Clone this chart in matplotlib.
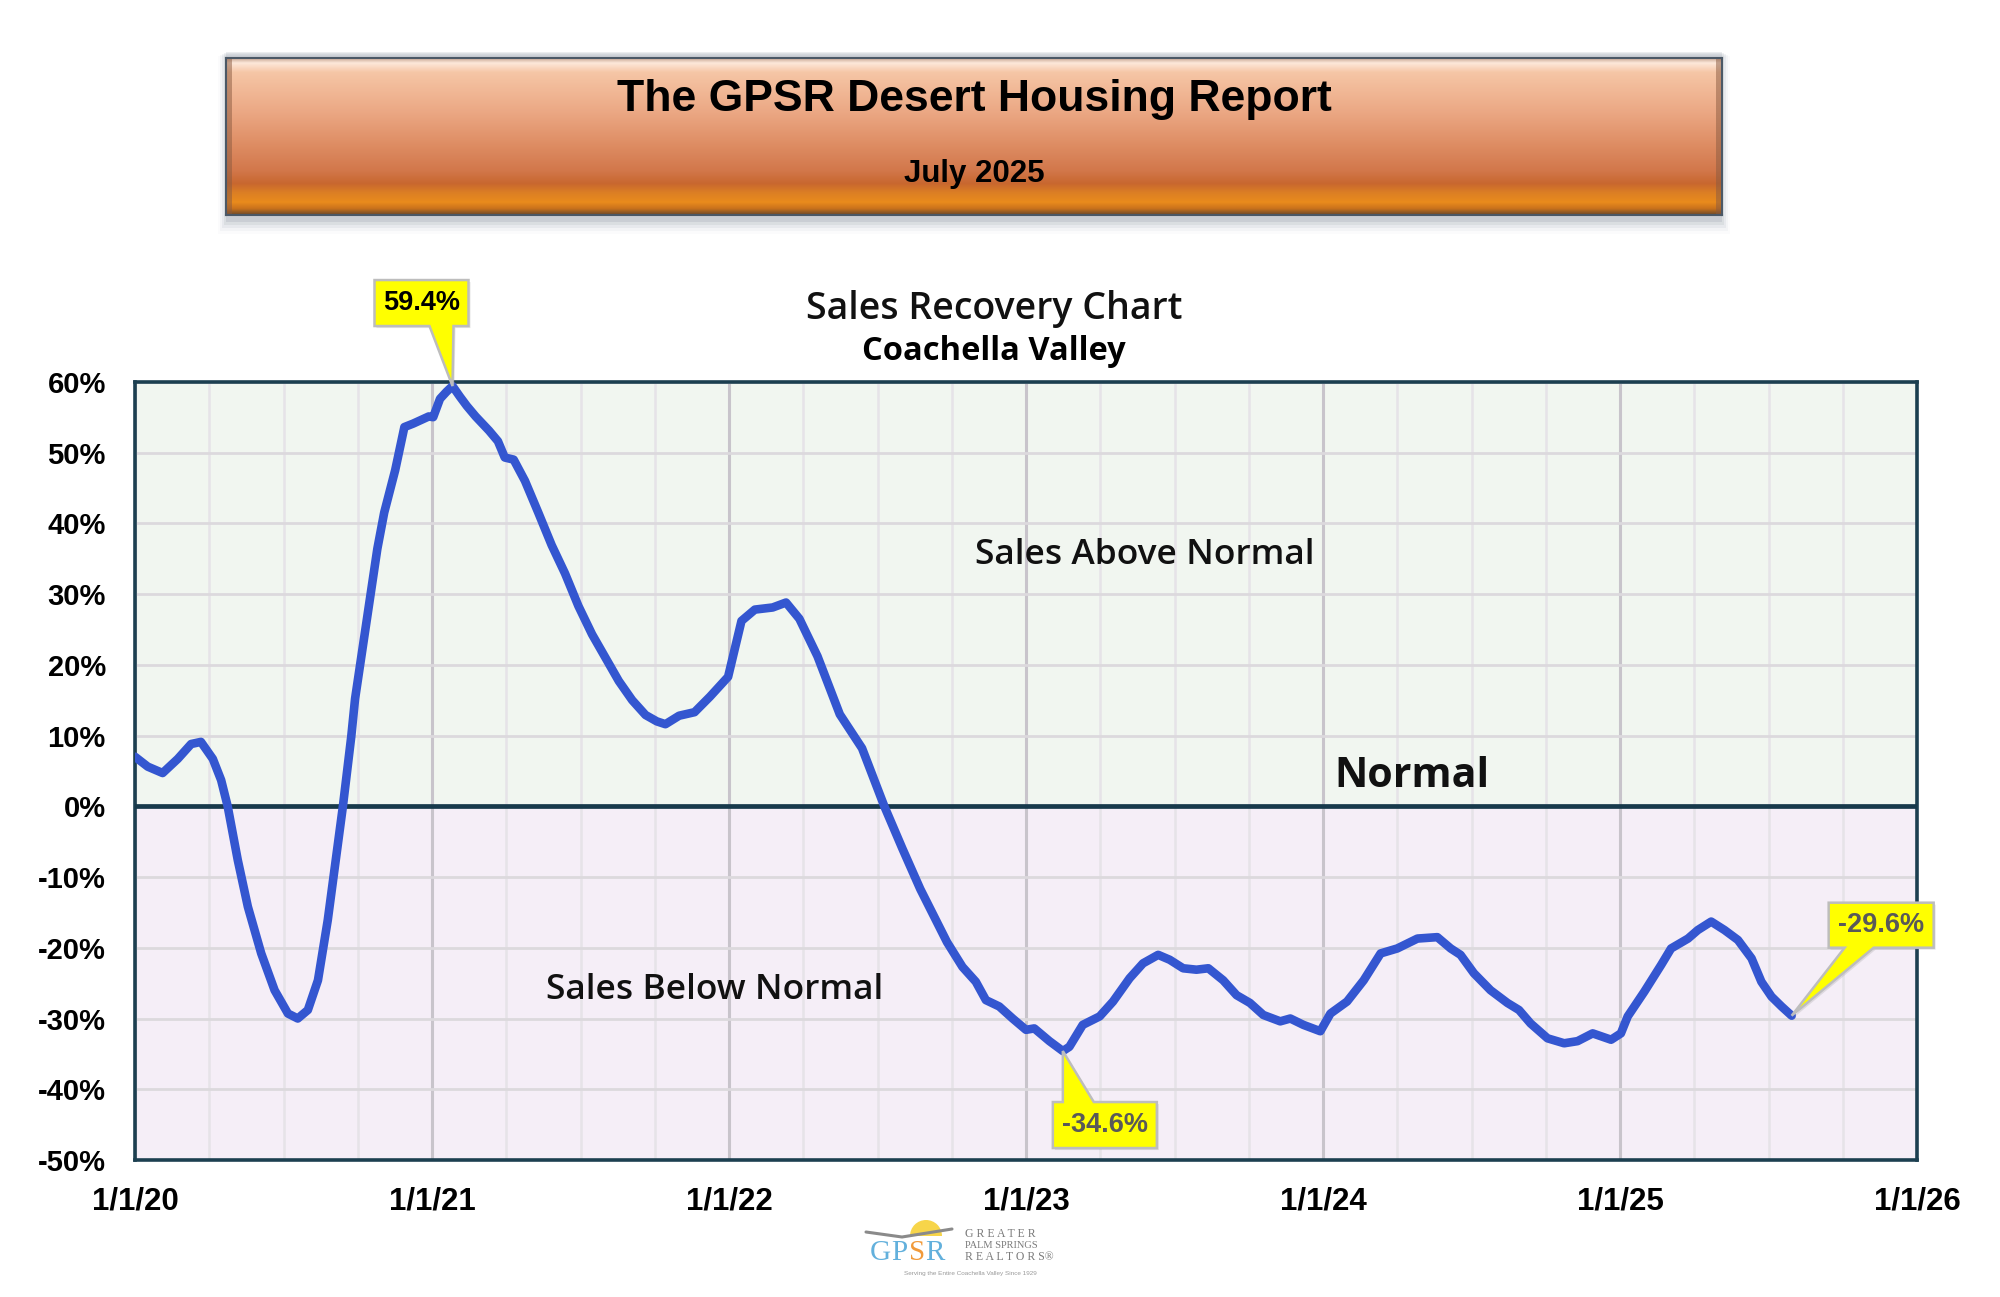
import numpy as np
import matplotlib
matplotlib.use("Agg")
import matplotlib.pyplot as plt
from matplotlib.patches import Polygon, Rectangle, Wedge
from matplotlib.transforms import IdentityTransform

# ---------------- data ----------------
t_years = [
    2020.000, 2020.043, 2020.093, 2020.144, 2020.189, 2020.222, 2020.262, 2020.290,
    2020.312, 2020.346, 2020.380, 2020.425, 2020.470, 2020.515, 2020.548, 2020.582,
    2020.616, 2020.649, 2020.677, 2020.700, 2020.728, 2020.741, 2020.786, 2020.816,
    2020.839, 2020.876, 2020.907, 2020.937, 2020.989, 2021.004, 2021.027, 2021.049,
    2021.069, 2021.094, 2021.117, 2021.147, 2021.192, 2021.222, 2021.245, 2021.275,
    2021.313, 2021.358, 2021.403, 2021.448, 2021.493, 2021.539, 2021.584, 2021.629,
    2021.674, 2021.719, 2021.757, 2021.786, 2021.832, 2021.884, 2021.936, 2021.997,
    2022.042, 2022.087, 2022.147, 2022.192, 2022.237, 2022.298, 2022.373, 2022.448,
    2022.523, 2022.584, 2022.644, 2022.734, 2022.786, 2022.831, 2022.865, 2022.910,
    2022.955, 2023.000, 2023.028, 2023.079, 2023.124, 2023.146, 2023.191, 2023.248,
    2023.293, 2023.349, 2023.394, 2023.445, 2023.484, 2023.529, 2023.574, 2023.614,
    2023.664, 2023.709, 2023.754, 2023.799, 2023.856, 2023.890, 2023.934, 2023.991,
    2024.025, 2024.081, 2024.137, 2024.194, 2024.250, 2024.318, 2024.385, 2024.430,
    2024.463, 2024.508, 2024.564, 2024.621, 2024.660, 2024.699, 2024.756, 2024.812,
    2024.857, 2024.908, 2024.970, 2025.003, 2025.026, 2025.082, 2025.139, 2025.172,
    2025.229, 2025.262, 2025.307, 2025.352, 2025.397, 2025.443, 2025.476, 2025.510,
    2025.544, 2025.578,
]
recovery_pct = [
    7.0, 5.6, 4.7, 6.7, 8.8, 9.1, 6.7, 3.7,
    0.0, -7.6, -14.2, -20.8, -26.0, -29.3, -30.0, -28.8,
    -24.6, -16.1, -7.2, 0.0, 9.8, 15.2, 27.9, 36.4,
    41.5, 47.5, 53.6, 54.1, 55.1, 55.0, 57.6, 58.6,
    59.4, 57.9, 56.6, 55.1, 53.1, 51.6, 49.3, 49.0,
    46.0, 41.5, 36.9, 32.9, 28.3, 24.3, 21.0, 17.7,
    15.0, 12.9, 12.0, 11.6, 12.8, 13.3, 15.5, 18.3,
    26.2, 27.8, 28.1, 28.8, 26.5, 21.2, 13.0, 8.2,
    0.0, -6.0, -11.7, -19.2, -22.7, -24.8, -27.4, -28.3,
    -30.0, -31.6, -31.4, -33.2, -34.6, -34.0, -30.9, -29.7,
    -27.6, -24.3, -22.2, -21.0, -21.7, -22.9, -23.1, -22.9,
    -24.6, -26.7, -27.8, -29.5, -30.4, -30.0, -30.9, -31.8,
    -29.3, -27.6, -24.6, -20.8, -20.1, -18.7, -18.5, -20.1,
    -21.0, -23.6, -26.0, -27.8, -28.8, -30.7, -32.8, -33.5,
    -33.2, -32.1, -33.0, -32.1, -29.7, -26.2, -22.4, -20.1,
    -18.7, -17.5, -16.3, -17.5, -18.9, -21.5, -24.8, -26.9,
    -28.3, -29.6,
]
x_tick_years = [2020, 2021, 2022, 2023, 2024, 2025, 2026]
x_tick_labels = ["1/1/20", "1/1/21", "1/1/22", "1/1/23", "1/1/24", "1/1/25", "1/1/26"]
y_ticks = [60, 50, 40, 30, 20, 10, 0, -10, -20, -30, -40, -50]
y_tick_labels = [f"{v}%" for v in y_ticks]

callout_points = [(2021.069, 59.4), (2023.124, -34.6), (2025.578, -29.6)]
callout_labels = ["59.4%", "-34.6%", "-29.6%"]

header_title = "The GPSR Desert Housing Report"
header_date = "July 2025"
chart_title = "Sales Recovery Chart"
chart_subtitle = "Coachella Valley"

# ---------------- figure ----------------
W, H = 2000, 1297
fig = plt.figure(figsize=(W / 100, H / 100), dpi=100)
fig.patch.set_facecolor("white")
SANS = ["Liberation Sans", "DejaVu Sans"]
OPEN = ["Open Sans", "DejaVu Sans"]


def fx(px):
    return px / W


def fy(py):
    return 1 - py / H


# ---------------- header banner ----------------
for i, a in enumerate([0.10, 0.08, 0.06, 0.04, 0.02]):
    fig.patches.append(Rectangle((fx(226 - i * 2), fy(222 + i * 3)),
                                 fx(1496 + i * 4), (170 + i * 2) / H,
                                 transform=fig.transFigure, facecolor="#40506a",
                                 edgecolor="none", alpha=a, zorder=0))
hax = fig.add_axes([fx(226), fy(215), fx(1496), 157 / H], zorder=2)
stops = [(0.00, "#c8a894"), (0.03, "#fde8da"), (0.09, "#f6c6a6"), (0.35, "#eba783"),
         (0.55, "#de8d64"), (0.72, "#d2774a"), (0.80, "#c8672f"), (0.86, "#dc7f24"),
         (0.92, "#e98b1c"), (0.96, "#c9721c"), (1.00, "#6e4a2a")]
tt = np.linspace(0, 1, 300)
cols = np.array([matplotlib.colors.to_rgb(c) for _, c in stops])
pos = np.array([p for p, _ in stops])
grad = np.stack([np.interp(tt, pos, cols[:, k]) for k in range(3)], axis=1)
img = np.repeat(grad[:, None, :], 10, axis=1)
hax.imshow(img, aspect="auto", extent=[0, 1, 0, 1], origin="upper")
hax.add_patch(Rectangle((0, 0), 0.004, 1, facecolor="#8a5a40", alpha=0.5, edgecolor="none"))
hax.add_patch(Rectangle((0.996, 0), 0.004, 1, facecolor="#8a5a40", alpha=0.5, edgecolor="none"))
hax.set_xlim(0, 1)
hax.set_ylim(0, 1)
hax.set_xticks([])
hax.set_yticks([])
for s in hax.spines.values():
    s.set_edgecolor("#4b5866")
    s.set_linewidth(1.5)
fig.text(fx(974), fy(99), header_title, ha="center", va="center", fontsize=32,
         fontweight="bold", family=SANS, color="black", zorder=5)
fig.text(fx(974), fy(174), header_date, ha="center", va="center", fontsize=22.5,
         fontweight="bold", family=SANS, color="black", zorder=5)

# ---------------- chart titles ----------------
fig.text(fx(994), fy(309), chart_title, ha="center", va="center", fontsize=27,
         fontweight="semibold", family=OPEN, color="#111111")
fig.text(fx(994), fy(351), chart_subtitle, ha="center", va="center", fontsize=23.5,
         fontweight="bold", family=OPEN, color="black")

# ---------------- main axes ----------------
ax = fig.add_axes([fx(135), fy(1160), fx(1782), (1160 - 381.8) / H])
ax.set_xlim(2020, 2026)
ax.set_ylim(-50, 60)
ax.axhspan(0, 60, facecolor="#f1f6f0", edgecolor="none", zorder=0)
ax.axhspan(-50, 0, facecolor="#f5eef7", edgecolor="none", zorder=0)

ax.set_xticks(x_tick_years)
ax.set_xticks(np.arange(2020, 2026.01, 0.25), minor=True)
ax.set_yticks(y_ticks)
ax.grid(which="minor", axis="x", color="#e6e3e8", linewidth=1.8, zorder=1)
ax.grid(which="major", axis="x", color="#c8c4cb", linewidth=2.2, zorder=1)
ax.grid(which="major", axis="y", color="#dcd9dd", linewidth=2.0, zorder=1)
ax.set_axisbelow(True)

ax.set_xticklabels(x_tick_labels, fontsize=22.5, fontweight="bold", family=SANS)
ax.set_yticklabels(y_tick_labels, fontsize=21, fontweight="bold", family=SANS)
ax.tick_params(axis="both", which="both", length=0)
ax.tick_params(axis="x", pad=19)
ax.tick_params(axis="y", pad=21)
for s in ax.spines.values():
    s.set_edgecolor("#1c3f50")
    s.set_linewidth(2.6)

ax.axhline(0, color="#17394b", linewidth=3.4, zorder=3)

ax.plot(t_years, recovery_pct, color="#3456d0", linewidth=6.2, zorder=4,
        solid_joinstyle="round", solid_capstyle="round")

# region labels
ax.text(2023.40, 35.5, "Sales Above Normal", ha="center", va="center", fontsize=25.5,
        fontweight="semibold", family=OPEN, color="#111111", zorder=5)
ax.text(2021.95, -25.9, "Sales Below Normal", ha="center", va="center", fontsize=25.5,
        fontweight="semibold", family=OPEN, color="#111111", zorder=5)
ax.text(2024.30, 4.2, "Normal", ha="center", va="center", fontsize=29.5,
        fontweight="bold", family=OPEN, color="#111111", zorder=5)

# ---------------- callouts ----------------
callout_geom = [
    (-78, 16, 60, 106, -23, 1, "above"),
    (-10, 94, -51, -97, 0, 31, "below"),
    (37, 142, 68, 113, 53, 82, "above"),
]
callout_colors = ["black", "#595959", "#595959"]
fig.canvas.draw()
for (px, py), lab, g, tc in zip(callout_points, callout_labels, callout_geom, callout_colors):
    X, Y = ax.transData.transform((px, py))
    L, R, n, f, b0, b1, side = g
    if side == "above":
        B, T = Y + n, Y + f
        verts = [(X + L, B), (X + b0, B), (X, Y), (X + b1, B), (X + R, B), (X + R, T), (X + L, T)]
    else:
        T, B = Y + n, Y + f
        verts = [(X + L, T), (X + b0, T), (X, Y), (X + b1, T), (X + R, T), (X + R, B), (X + L, B)]
    shadow = Polygon([(vx + 2, vy - 2) for vx, vy in verts], closed=True, transform=IdentityTransform(),
                     facecolor="#999999", alpha=0.25, edgecolor="none", zorder=8)
    poly = Polygon(verts, closed=True, transform=IdentityTransform(), facecolor="#ffff00",
                   edgecolor="#bdbdbd", linewidth=1.8, zorder=9, joinstyle="miter")
    fig.add_artist(shadow)
    fig.add_artist(poly)
    cx, cy = X + (L + R) / 2, (B + T) / 2
    fig.text(cx / W, cy / H, lab, ha="center", va="center", fontsize=19.5, fontweight="bold",
             family=SANS, color=tc, zorder=10)

# ---------------- logo ----------------
lax = fig.add_axes([fx(850), fy(1290), fx(240), 80 / H], zorder=3)
lax.set_xlim(850, 1090)
lax.set_ylim(1290, 1210)
lax.axis("off")
lax.add_patch(Wedge((926, 1236), 16, 180, 360, facecolor="#f7d54a", edgecolor="none"))
lax.plot([866, 902, 952], [1232, 1237, 1229], color="#8a8a8a", linewidth=2.2,
         solid_capstyle="round")
for ch, xx, c in zip("GPSR", [880, 899, 917, 935], ["#62b0dc", "#62b0dc", "#f19a3a", "#62b0dc"]):
    lax.text(xx, 1253, ch, ha="center", va="center", fontsize=21, family=["Liberation Serif"],
             color=c)
lax.text(965, 1234, "G R E A T E R", ha="left", va="center", fontsize=8.5,
         family=["Liberation Serif"], color="#7a7a7a")
lax.text(965, 1246, "PALM SPRINGS", ha="left", va="center", fontsize=7.5,
         family=["Liberation Serif"], color="#7a7a7a")
lax.text(965, 1257, "R E A L T O R S\u00ae", ha="left", va="center", fontsize=8.5,
         family=["Liberation Serif"], color="#7a7a7a")
lax.text(970, 1273, "Serving the Entire Coachella Valley Since 1929", ha="center",
         va="center", fontsize=4.6, family=SANS, color="#9a9a9a")

fig.savefig("out.png", dpi=100, facecolor="white")
